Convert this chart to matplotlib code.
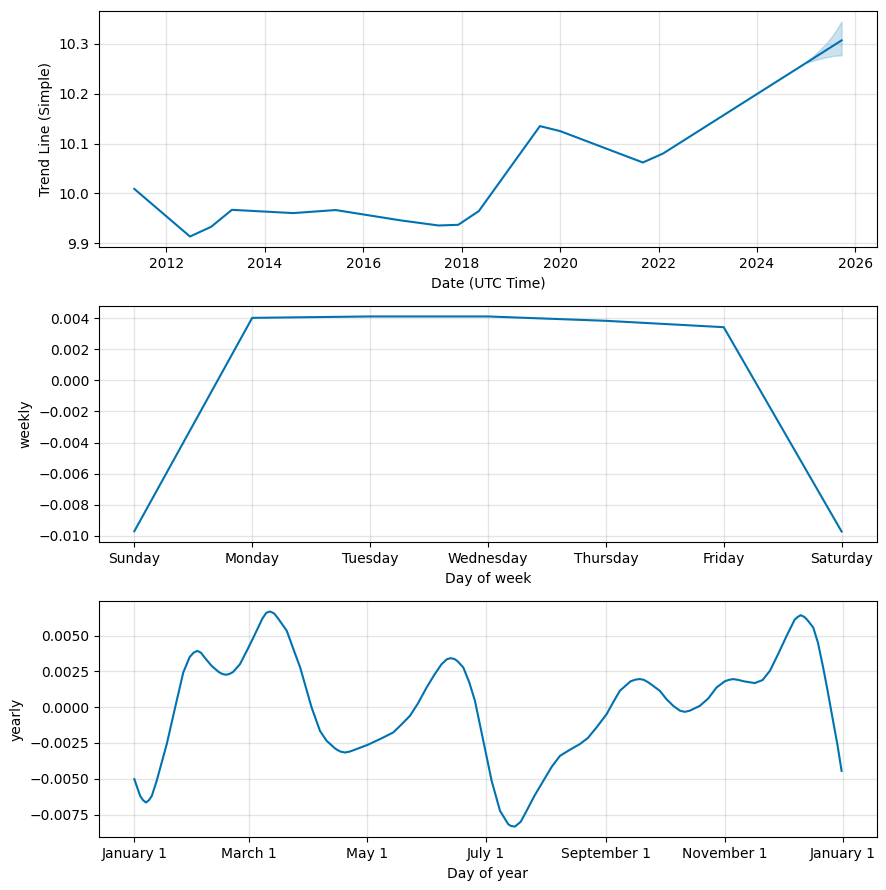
import matplotlib
matplotlib.use("Agg")
import matplotlib.pyplot as plt
import matplotlib.dates as mdates
from matplotlib.ticker import FuncFormatter
import pandas as pd

# ---- Trend component (piecewise linear) ----
trend_dates = ['2011-05-08', '2012-06-24', '2012-11-28', '2013-05-01', '2014-07-31',
               '2015-06-10', '2016-10-01', '2017-07-13', '2017-12-06', '2018-05-08',
               '2019-08-04', '2020-01-01', '2021-09-06', '2022-02-03', '2025-01-01',
               '2025-09-20']
trend_values = [10.009, 9.9135, 9.933, 9.967, 9.9605,
                9.9666, 9.946, 9.9356, 9.937, 9.9646,
                10.135, 10.125, 10.062, 10.080, 10.262,
                10.307]

# uncertainty band of the forecast part
band_dates = ['2025-01-01', '2025-03-15', '2025-05-27', '2025-07-24', '2025-09-20']
band_upper = [10.262, 10.281, 10.300, 10.320, 10.345]
band_lower = [10.262, 10.268, 10.273, 10.276, 10.277]

# ---- Weekly component ----
week_days = ['Sunday', 'Monday', 'Tuesday', 'Wednesday', 'Thursday', 'Friday', 'Saturday']
weekly_values = [-0.0097, 0.00402, 0.00411, 0.00411, 0.00383, 0.00342, -0.00972]

# ---- Yearly component (day offset from Jan 1, value) ----
yearly_days = [0, 3, 4.5, 6, 7.5, 9, 11.5, 16.7, 21, 25.2, 28.5, 30.5, 32.4, 34.3, 36,
               39.8, 43.5, 45.3, 47.2, 49, 50.8, 54.4, 57.8, 61.3, 66, 68, 69.9, 72, 74,
               78.5, 82, 85.4, 91.3, 95.6, 99, 103.5, 106, 108.5, 111, 114, 120.2, 127,
               133.3, 137.5, 141.9, 146, 150.5, 154.5, 158.2, 161, 163, 165, 166.5,
               169.4, 172.5, 175.4, 179.7, 184, 188.3, 192.5, 194, 196, 199, 202, 206,
               210.6, 215, 219.2, 224, 229.4, 233.5, 238, 243.2, 246.5, 250, 255.5, 258,
               260.3, 262.5, 265, 270.6, 274, 277.5, 281, 283.5, 286, 291.2, 295.5,
               299.8, 304, 306, 308.4, 311, 314, 319.5, 323.5, 327.3, 331.5, 335.9,
               340, 341.6, 343.2, 345, 346.5, 349.6, 352, 354.7, 357, 359.8, 362, 364.2]
yearly_values = [-0.00503, -0.0062, -0.0065, -0.00666, -0.0065, -0.0062, -0.00515,
                 -0.00258, -0.00003, 0.00242, 0.0035, 0.0038, 0.00393, 0.0038, 0.0035,
                 0.00288, 0.00245, 0.00232, 0.00226, 0.00232, 0.00245, 0.0030, 0.0039,
                 0.00486, 0.0062, 0.00659, 0.00668, 0.00654, 0.0062, 0.00533, 0.00402,
                 0.00277, -0.00003, -0.00166, -0.00235, -0.0029, -0.0031, -0.00317,
                 -0.0031, -0.00295, -0.00263, -0.0022, -0.00177, -0.00122, -0.00061,
                 0.00025, 0.00137, 0.00226, 0.0030, 0.00335, 0.00342, 0.00335, 0.0032,
                 0.00277, 0.00172, 0.00044, -0.00235, -0.00515, -0.00724, -0.00817,
                 -0.0083, -0.00834, -0.0080, -0.00724, -0.0062, -0.00515, -0.00415,
                 -0.0034, -0.003, -0.00258, -0.00216, -0.00142, -0.00049, 0.00032,
                 0.00114, 0.0018, 0.00192, 0.00196, 0.0019, 0.0017, 0.00114, 0.00056,
                 0.00009, -0.00025, -0.00033, -0.00025, 0.00009, 0.0006, 0.00137,
                 0.0018, 0.0019, 0.00196, 0.0019, 0.0018, 0.00168, 0.00189, 0.00254,
                 0.0037, 0.00498, 0.0061, 0.0063, 0.00642, 0.0063, 0.0061, 0.00556,
                 0.00451, 0.00277, 0.00114, -0.00096, -0.00258, -0.00445]

COLOR = '#0072B2'

fig, axes = plt.subplots(3, 1, figsize=(8.86, 8.90), dpi=100)
fig.subplots_adjust(left=0.1117, right=0.9898, top=0.988, bottom=0.0592, hspace=0.247)

def style_grid(ax):
    ax.grid(True, which='major', c='gray', ls='-', lw=1, alpha=0.2)

# Trend
ax = axes[0]
t = pd.to_datetime(trend_dates)
ax.plot(t, trend_values, ls='-', c=COLOR, lw=1.5)
bt = pd.to_datetime(band_dates)
ax.fill_between(bt, band_lower, band_upper, color=COLOR, alpha=0.2)
ax.xaxis.set_major_locator(mdates.YearLocator(2))
ax.xaxis.set_major_formatter(mdates.DateFormatter('%Y'))
style_grid(ax)
ax.set_xlabel('Date (UTC Time)')
ax.set_ylabel('Trend Line (Simple)')

# Weekly
ax = axes[1]
ax.plot(range(len(week_days)), weekly_values, ls='-', c=COLOR, lw=1.5)
ax.set_xticks(range(len(week_days)))
ax.set_xticklabels(week_days)
style_grid(ax)
ax.set_xlabel('Day of week')
ax.set_ylabel('weekly')

# Yearly
ax = axes[2]
yd = pd.Timestamp('2017-01-01') + pd.to_timedelta(yearly_days, unit='D')
ax.plot(yd.to_pydatetime(), yearly_values, ls='-', c=COLOR, lw=1.5)
ax.xaxis.set_major_locator(mdates.MonthLocator(range(1, 13), bymonthday=1, interval=2))
ax.xaxis.set_major_formatter(FuncFormatter(
    lambda x, pos=None: '{dt:%B} {dt.day}'.format(dt=mdates.num2date(x))))
style_grid(ax)
ax.set_xlabel('Day of year')
ax.set_ylabel('yearly')

fig.savefig('out.png', dpi=100)
